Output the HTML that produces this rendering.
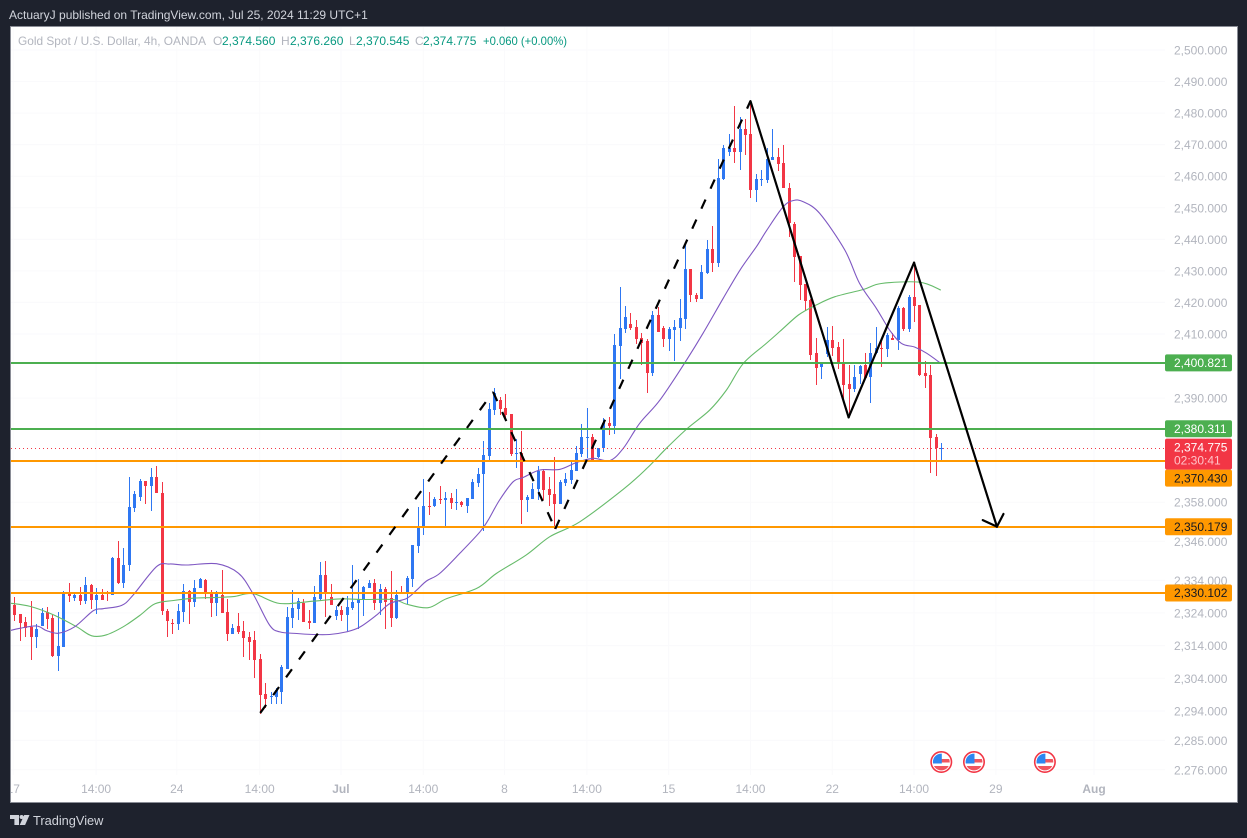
<!DOCTYPE html>
<html lang="en">
<head>
<meta charset="utf-8">
<title>Gold Spot / U.S. Dollar chart</title>
<style>
html,body{margin:0;padding:0;background:#1e222d;width:1247px;height:838px;overflow:hidden}
svg{display:block}
text{font-family:"Liberation Sans",sans-serif;font-size:12px}
</style>
</head>
<body>
<svg id="chart" xmlns="http://www.w3.org/2000/svg" width="1247" height="838" viewBox="0 0 1247 838">
  <defs>
    <clipPath id="plot-clip"><rect x="11" y="27" width="1154" height="748"/></clipPath>
    <clipPath id="axis-clip"><rect x="1165" y="27" width="72" height="748"/></clipPath>
    <clipPath id="time-clip"><rect x="11" y="775" width="1226" height="27"/></clipPath>
    <clipPath id="flag-clip"><circle cx="0" cy="0" r="8.4"/></clipPath>
  </defs>
  <rect x="0" y="0" width="1247" height="838" fill="#1e222d"/>
  <text x="9" y="19" fill="#d1d4dc">ActuaryJ published on TradingView.com, Jul 25, 2024 11:29 UTC+1</text>
  <rect x="10.5" y="26.5" width="1227" height="776" fill="#ffffff" stroke="#8a8d96" stroke-width="1"/>
  <g id="grid"></g>
  <g clip-path="url(#plot-clip)">
    <g id="candles" shape-rendering="crispEdges"></g>
    <g id="mas"></g>
    <g id="levels"></g>
    <g id="drawings"></g>
    <g id="events"></g>
  </g>
  <g id="y-axis" clip-path="url(#axis-clip)"></g>
  <g id="level-labels"></g>
  <g id="x-axis" clip-path="url(#time-clip)"></g>

  <g>
    <text x="18" y="45" fill="#b2b5be" textLength="188" lengthAdjust="spacingAndGlyphs">Gold Spot / U.S. Dollar, 4h, OANDA</text>
    <text x="213" y="45" fill="#b2b5be">O</text>
    <text x="222" y="45" fill="#089981">2,374.560</text>
    <text x="281" y="45" fill="#b2b5be">H</text>
    <text x="290" y="45" fill="#089981">2,376.260</text>
    <text x="349" y="45" fill="#b2b5be">L</text>
    <text x="356" y="45" fill="#089981">2,370.545</text>
    <text x="415" y="45" fill="#b2b5be">C</text>
    <text x="423" y="45" fill="#089981">2,374.775</text>
    <text x="483" y="45" fill="#089981" textLength="84" lengthAdjust="spacingAndGlyphs">+0.060 (+0.00%)</text>
  </g>

  <g>
    <path d="M10 815h9v10h-4.6v-6H10z" fill="#d1d4dc"/>
    <circle cx="21.6" cy="817" r="2" fill="#d1d4dc"/>
    <path d="M24.2 815h5.3l-4.4 10h-5.4z" fill="#d1d4dc"/>
    <text x="33" y="825" fill="#d1d4dc" style="font-size:12.8px">TradingView</text>
  </g>
</svg>

<script>
// ---- price data (4h bars) ----
const opens = [
2326.5,2323.7,2321.2,2319.8,2316.7,2320.0,2324.3,2322.5,2310.8,2313.7,
2330.5,2328.6,2329.5,2327.7,2332.6,2328.0,2329.5,2330.1,2329.5,2340.9,
2333.2,2338.7,2356.2,2359.6,2364.5,2363.0,2365.7,2360.8,2324.6,2320.9,
2320.6,2324.3,2330.8,2327.4,2331.7,2334.1,2330.1,2327.1,2329.5,2324.3,
2317.6,2320.0,2318.5,2316.6,2315.7,2309.9,2299.1,2298.3,2298.3,2299.8,
2306.8,2322.4,2325.1,2327.0,2321.5,2320.8,2328.2,2335.6,2328.8,2323.0,
2324.8,2323.3,2325.5,2327.0,2328.2,2331.6,2333.1,2327.0,2331.3,2328.5,
2322.4,2330.4,2330.1,2334.4,2344.5,2350.4,2356.8,2356.8,2359.0,2358.7,
2359.3,2357.7,2358.0,2356.8,2359.0,2363.9,2366.7,2372.2,2386.3,2389.4,
2387.0,2385.1,2372.9,2373.1,2358.7,2359.0,2362.1,2367.6,2362.1,2360.5,
2357.4,2363.9,2364.8,2367.6,2372.8,2377.7,2378.0,2371.9,2374.7,2382.3,
2381.4,2406.2,2411.6,2413.1,2412.2,2408.7,2407.8,2397.7,2416.0,2411.9,
2408.4,2411.2,2411.9,2414.7,2430.6,2422.3,2421.1,2429.3,2436.9,2432.5,
2459.1,2467.7,2468.9,2467.7,2474.9,2473.4,2455.6,2458.8,2458.8,2465.1,
2466.1,2464.2,2456.2,2444.8,2434.7,2425.8,2420.8,2404.0,2399.6,2403.7,
2408.1,2405.9,2400.8,2394.3,2392.8,2397.4,2400.2,2396.5,2404.0,2405.6,
2405.2,2408.7,2408.1,2418.2,2411.6,2421.7,2419.2,2397.7,2397.1,2378.0,2374.56];
const highs = [
2329.0,2323.7,2322.9,2327.7,2320.6,2325.4,2325.7,2323.4,2324.3,2330.8,
2333.2,2330.0,2332.0,2335.1,2332.9,2331.7,2331.4,2330.8,2341.2,2346.1,
2343.9,2365.7,2361.4,2365.1,2364.5,2368.5,2369.1,2364.2,2325.2,2322.2,
2326.8,2332.9,2331.1,2334.1,2334.8,2334.4,2331.1,2330.8,2337.2,2328.3,
2320.6,2324.0,2321.5,2318.2,2318.5,2311.4,2302.5,2299.8,2301.0,2308.0,
2325.8,2331.0,2328.5,2328.2,2324.8,2332.2,2339.6,2339.9,2332.8,2326.1,
2326.1,2329.1,2338.7,2334.4,2332.2,2334.1,2334.4,2332.8,2331.9,2336.8,
2331.0,2332.2,2335.3,2344.8,2356.6,2365.1,2361.1,2359.6,2363.0,2361.1,
2360.8,2362.1,2358.4,2359.3,2365.1,2368.5,2376.8,2388.5,2393.1,2390.3,
2391.3,2385.1,2377.4,2379.9,2360.2,2363.9,2369.1,2368.2,2365.7,2371.9,
2364.8,2367.0,2370.7,2375.3,2382.0,2387.0,2379.0,2374.7,2383.8,2384.2,
2410.0,2424.9,2418.9,2416.6,2414.4,2410.3,2408.4,2417.3,2418.5,2412.5,
2412.2,2414.4,2421.1,2438.7,2430.6,2423.0,2431.8,2439.8,2444.2,2465.4,
2469.9,2473.4,2482.2,2478.7,2478.1,2483.5,2460.7,2461.9,2468.9,2474.9,
2468.9,2469.9,2457.8,2445.5,2434.7,2425.8,2421.1,2408.7,2400.8,2412.2,
2412.5,2407.5,2408.4,2400.2,2400.2,2400.2,2404.0,2407.1,2412.2,2408.7,
2410.3,2410.3,2418.9,2418.5,2422.3,2432.5,2419.2,2401.4,2400.2,2379.0,2376.26];
const lows = [
2321.5,2315.5,2316.7,2309.6,2313.4,2320.0,2319.1,2310.5,2306.3,2313.7,
2327.4,2327.7,2326.5,2326.8,2325.2,2323.7,2328.0,2327.7,2329.5,2332.9,
2331.7,2336.9,2355.0,2358.4,2357.5,2355.3,2360.8,2323.4,2316.6,2317.6,
2318.8,2321.2,2320.6,2325.8,2331.7,2328.3,2322.8,2323.1,2324.0,2315.4,
2317.6,2317.6,2310.5,2309.6,2304.1,2293.0,2294.8,2296.1,2296.1,2296.1,
2306.8,2319.3,2321.8,2321.2,2319.0,2320.8,2327.6,2322.7,2326.4,2321.8,
2321.5,2318.4,2324.8,2319.0,2323.0,2331.6,2324.8,2323.3,2319.0,2319.6,
2322.1,2329.8,2326.7,2331.9,2342.4,2347.9,2354.1,2356.5,2357.4,2350.7,
2355.9,2355.6,2356.5,2354.7,2359.0,2362.7,2349.1,2371.0,2384.8,2384.8,
2383.3,2372.2,2368.5,2351.3,2355.0,2359.0,2358.7,2358.7,2356.8,2349.8,
2357.4,2363.0,2363.6,2367.6,2372.0,2371.5,2370.4,2371.5,2373.4,2378.7,
2379.0,2395.9,2410.3,2411.2,2406.8,2400.2,2391.6,2396.8,2410.6,2405.9,
2404.6,2401.4,2407.8,2411.6,2420.1,2420.1,2421.1,2429.0,2429.6,2431.2,
2458.8,2466.4,2464.2,2461.9,2466.7,2453.1,2451.8,2456.9,2457.8,2465.1,
2461.6,2456.2,2440.7,2426.5,2420.8,2417.3,2401.7,2394.0,2395.9,2402.8,
2403.0,2399.0,2389.4,2384.3,2391.9,2394.3,2395.9,2388.5,2403.7,2399.6,
2402.7,2408.1,2404.9,2410.9,2410.6,2413.8,2396.8,2393.1,2367.0,2366.1,2370.545];
const closes = [
2323.4,2321.0,2319.5,2316.7,2319.1,2324.0,2322.2,2310.8,2313.9,2330.5,
2329.2,2329.5,2327.7,2332.6,2328.0,2329.5,2328.0,2329.9,2340.9,2333.2,
2338.7,2356.5,2360.5,2364.5,2363.0,2365.7,2360.8,2324.6,2321.5,2320.6,
2324.6,2330.8,2327.4,2331.7,2334.4,2329.8,2327.1,2329.8,2324.0,2317.6,
2319.4,2318.2,2316.3,2315.1,2309.6,2298.8,2297.6,2298.5,2300.4,2307.4,
2322.8,2325.5,2327.6,2321.2,2320.8,2328.8,2335.6,2329.8,2326.4,2324.8,
2323.3,2325.8,2327.3,2328.2,2331.9,2333.1,2327.0,2331.3,2327.3,2322.4,
2329.5,2330.1,2334.7,2344.8,2350.7,2356.8,2356.5,2359.0,2358.7,2359.3,
2357.7,2358.0,2357.1,2359.3,2364.2,2366.7,2372.5,2386.7,2391.6,2386.7,
2384.8,2372.8,2373.1,2358.7,2359.6,2362.1,2367.6,2361.7,2360.2,2357.4,
2364.2,2365.1,2367.9,2373.1,2378.0,2378.0,2371.0,2374.7,2382.3,2381.4,
2406.5,2411.9,2415.4,2411.9,2408.4,2407.1,2397.7,2416.0,2410.6,2408.4,
2411.6,2412.2,2415.0,2430.6,2422.3,2421.1,2429.6,2436.9,2432.5,2459.4,
2468.9,2468.9,2467.7,2474.9,2473.0,2455.6,2459.1,2459.1,2465.4,2466.1,
2463.9,2456.2,2445.2,2434.4,2425.5,2420.4,2403.3,2399.3,2400.8,2408.1,
2405.6,2400.5,2394.0,2392.8,2396.5,2399.9,2396.2,2404.0,2405.6,2405.2,
2409.7,2408.1,2418.2,2411.6,2421.7,2418.9,2397.1,2396.8,2377.7,2374.7,2374.775];

// ---- moving averages, sampled at bar indexes ----
const purpleBars = [-0.8,1,4.1,5.9,8.1,11.1,14.5,16.3,19.7,21.8,26.1,28.5,31.6,37.1,41.1,43.8,46.8,48.7,51.8,54.8,57.8,60.9,63.4,66.4,68.9,71.9,73.8,75.6,78,81.7,85.4,86.9,89,91.5,93.3,96.4,100,103.1,106.2,109.2,111.7,114.7,118.4,123.3,126.3,130,133.1,136.1,138,141,142.9,144.7,147.7,152.3,155,158.1,160.5,162.7,165.2,167.3,169.9];
const purpleValues = [2318.6,2319.3,2320.0,2318.6,2317.8,2319.8,2324.7,2325.3,2326.3,2329.5,2338.2,2339.0,2338.7,2339.1,2336.2,2329.8,2320.3,2318.2,2317.7,2317.4,2317.4,2318.2,2319.7,2323.3,2326.9,2328.4,2331.0,2333.8,2336.1,2342.3,2348.9,2352.5,2358.7,2364.3,2365.6,2367.9,2368.1,2370.2,2371.5,2370.8,2374.6,2382.3,2389.4,2401.8,2410.2,2421.3,2430.3,2437.7,2442.9,2450.3,2452.3,2451.9,2448.2,2436.6,2426.1,2418.1,2411.3,2407.0,2405.8,2403.9,2400.7];
const greenBars = [-0.8,2.9,7.2,11.4,14.2,16.9,20,23,25.8,29.2,32.8,36.5,40.2,43.8,48.7,54.8,59.7,64,69.5,71.9,75.9,79.3,84.8,88.4,93.9,98.2,103.7,111.7,116,119.6,123.3,127.5,130.6,133.7,137.9,140.4,143.8,147.1,150.5,155.7,159,166,169.9];
const greenValues = [2327.0,2326.0,2323.4,2319.8,2317.0,2317.3,2319.8,2323.2,2326.8,2327.8,2328.5,2328.7,2329.0,2329.9,2326.9,2327.6,2328.3,2328.1,2328.1,2326.7,2325.6,2328.4,2331.5,2336.1,2341.8,2347.4,2352.0,2362.0,2368.4,2374.6,2380.5,2386.3,2392.5,2400.7,2407.0,2410.8,2416.0,2419.2,2421.8,2424.1,2426.0,2426.4,2423.9];

// ---- horizontal levels ----
const levelValues = [2400.821,2380.6,2370.8,2350.45,2330.102];
const levelTexts = ["2,400.821","2,380.311","2,370.430","2,350.179","2,330.102"];
const levelKinds = ["green","green","orange","orange","orange"];
const lastPrice = 2374.775;
const lastPriceText = "2,374.775";
const countdownText = "02:30:41";

// ---- trend drawings (bar index, price) ----
const dashedBars = [45.1,87.8,99.2,135];
const dashedPrices = [2293.4,2391.9,2349.8,2483.8];
const solidBars = [135,153,165,180.2];
const solidPrices = [2483.8,2384.1,2432.6,2350.5];
const arrowBars = [177.6,180.2,181.4];
const arrowPrices = [2352.5,2350.5,2354.4];

// ---- axes ----
const priceTicks = [2500,2490,2480,2470,2460,2450,2440,2430,2420,2410,2390,2358,2346,2334,2324,2314,2304,2294,2285,2276];
const priceTickLabels = ["2,500.000","2,490.000","2,480.000","2,470.000","2,460.000","2,450.000","2,440.000","2,430.000","2,420.000","2,410.000","2,390.000","2,358.000","2,346.000","2,334.000","2,324.000","2,314.000","2,304.000","2,294.000","2,285.000","2,276.000"];
const timeBars = [-0.2,15,29.8,45,59.9,75,89.9,105,120,135,150,165,180,198];
const timeLabels = ["17","14:00","24","14:00","Jul","14:00","8","14:00","15","14:00","22","14:00","29","Aug"];
const eventBars = [170,176,189];

// ---- scales ----
const NS = "http://www.w3.org/2000/svg";
const BAR0 = 14.3, BAR_STEP = 5.453;
const xScale = i => BAR0 + BAR_STEP * i;
const priceDomain = [2500, 2400.8, 2330.1, 2270];
const pixelRange = [50, 363, 593, 789.4];
function yScale(p) {
  let k = 0;
  while (k < priceDomain.length - 2 && p < priceDomain[k + 1]) k++;
  const t = (p - priceDomain[k]) / (priceDomain[k + 1] - priceDomain[k]);
  return pixelRange[k] + t * (pixelRange[k + 1] - pixelRange[k]);
}
function mk(parent, tag, attrs) {
  const el = document.createElementNS(NS, tag);
  for (const k in attrs) el.setAttribute(k, attrs[k]);
  parent.appendChild(el);
  return el;
}
function txt(parent, x, y, s, fill, anchor) {
  const el = mk(parent, "text", { x: x, y: y, fill: fill, "text-anchor": anchor || "start" });
  el.textContent = s;
  return el;
}
const COLORS = { up: "#2e77f2", down: "#f23645", green: "#4caf50", orange: "#ff9800" };

// grid
const gridG = document.getElementById("grid");
priceTicks.forEach(p => {
  const l = mk(gridG, "line", { x1: 11, x2: 1165, y1: yScale(p), y2: yScale(p), stroke: "#fafafc", "stroke-width": 1 });
  
  
});
timeBars.forEach(b => {
  const l = mk(gridG, "line", { x1: xScale(b), x2: xScale(b), y1: 27, y2: 775, stroke: "#fafafc", "stroke-width": 1 });
  
  
});

// candles
const candleG = document.getElementById("candles");
opens.forEach((o, i) => {
  const c = closes[i], color = c >= o ? COLORS.up : COLORS.down;
  const cx = Math.round(xScale(i));
  const g = mk(candleG, "g", { fill: color });
  
  
  const top = Math.round(yScale(highs[i])), bot = Math.round(yScale(lows[i]));
  const wick = mk(g, "rect", { x: cx, y: top, width: 1, height: Math.max(1, bot - top) });
  
  
  const bt = Math.round(yScale(Math.max(o, c))), bb = Math.round(yScale(Math.min(o, c)));
  const body = mk(g, "rect", { x: cx - 1, y: bt, width: 3, height: Math.max(1, bb - bt) });
  
  
});

// moving averages (smoothed through the sampled values)
function linePath(bars, vals) {
  const pts = bars.map((b, i) => [xScale(b), yScale(vals[i])]);
  let d = "M" + pts[0][0].toFixed(1) + " " + pts[0][1].toFixed(1);
  for (let i = 0; i + 1 < pts.length; i++) {
    const a = pts[Math.max(0, i - 1)], b = pts[i], c = pts[i + 1], e = pts[Math.min(pts.length - 1, i + 2)];
    const c1x = b[0] + (c[0] - a[0]) / 6, c1y = b[1] + (c[1] - a[1]) / 6;
    const c2x = c[0] - (e[0] - b[0]) / 6, c2y = c[1] - (e[1] - b[1]) / 6;
    d += "C" + c1x.toFixed(1) + " " + c1y.toFixed(1) + " " + c2x.toFixed(1) + " " + c2y.toFixed(1) + " " + c[0].toFixed(1) + " " + c[1].toFixed(1);
  }
  return d;
}
const maG = document.getElementById("mas");
const greenLine = mk(maG, "path", { d: linePath(greenBars, greenValues), fill: "none", stroke: "#66bb6a", "stroke-width": 1.1, "stroke-linejoin": "round" });


const purpleLine = mk(maG, "path", { d: linePath(purpleBars, purpleValues), fill: "none", stroke: "#7e57c2", "stroke-width": 1.1, "stroke-linejoin": "round" });



// horizontal levels
const levelG = document.getElementById("levels");
const yLast = yScale(lastPrice);
const lastLine = mk(levelG, "line", { x1: 11, x2: 1165, y1: Math.round(yLast) + 0.5, y2: Math.round(yLast) + 0.5, stroke: "#f23645", "stroke-width": 1, "stroke-dasharray": "1 3" });


levelValues.forEach((v, i) => {
  const y = Math.round(yScale(v));
  const l = mk(levelG, "line", { x1: 11, x2: 1165, y1: y, y2: y, stroke: COLORS[levelKinds[i]], "stroke-width": 2 });
  
  
});

// trend drawings
const drawG = document.getElementById("drawings");
function segment(b1, p1, b2, p2, dashed, name) {
  const attrs = { x1: xScale(b1), y1: yScale(p1), x2: xScale(b2), y2: yScale(p2), stroke: "#000", "stroke-width": 2.2, "stroke-linecap": dashed ? "butt" : "round" };
  if (dashed) attrs["stroke-dasharray"] = "10 12";
  const l = mk(drawG, "line", attrs);
  
  
}
for (let i = 0; i + 1 < dashedBars.length; i++) segment(dashedBars[i], dashedPrices[i], dashedBars[i + 1], dashedPrices[i + 1], true, 'dashed-trend-line');
for (let i = 0; i + 1 < solidBars.length; i++) segment(solidBars[i], solidPrices[i], solidBars[i + 1], solidPrices[i + 1], false, 'solid-trend-line');
for (let i = 0; i + 1 < arrowBars.length; i++) segment(arrowBars[i], arrowPrices[i], arrowBars[i + 1], arrowPrices[i + 1], false, 'arrow-head-stroke');

// event flags
const evG = document.getElementById("events");
eventBars.forEach(b => {
  const g = mk(evG, "g", { transform: "translate(" + xScale(b).toFixed(1) + ",762)" });
  
  
  mk(g, "circle", { cx: 0, cy: 0, r: 10.2, fill: "#fff", stroke: "#f23645", "stroke-width": 1.6 });
  const inner = mk(g, "g", { "clip-path": "url(#flag-clip)" });
  mk(inner, "rect", { x: -9, y: -9, width: 18, height: 18, fill: "#fff" });
  mk(inner, "rect", { x: -9, y: 4, width: 18, height: 5, fill: "#f0555f" });
  mk(inner, "rect", { x: 0, y: -3, width: 9, height: 3.5, fill: "#f0555f" });
  mk(inner, "rect", { x: -9, y: -9, width: 9.5, height: 10.5, fill: "#2e86f0" });
});

// price axis
const yAxisG = document.getElementById("y-axis");
priceTicks.forEach((p, i) => {
  const t = txt(yAxisG, 1174, yScale(p) + 4.5, priceTickLabels[i], "#b2b5be");
  
  
});

// level price labels
const lblG = document.getElementById("level-labels");
const lastTop = yLast - 9, lastBottom = lastTop + 31;
levelValues.forEach((v, i) => {
  let top = yScale(v) - 8.5;
  if (top >= lastTop && top < lastBottom) top = lastBottom;
  const kind = levelKinds[i];
  const r = mk(lblG, "rect", { x: 1165, y: top, width: 67, height: 17, rx: 2, fill: COLORS[kind] });
  
  
  const t = txt(lblG, 1174, top + 12.7, levelTexts[i], kind === "green" ? "#ffffff" : "#131722");
  
  
});
const lastBox = mk(lblG, "rect", { x: 1165, y: lastTop, width: 67, height: 31, rx: 2, fill: "#f23645" });


const lastTxt = txt(lblG, 1174, lastTop + 12.7, lastPriceText, "#ffffff");


const cdTxt = txt(lblG, 1174, lastTop + 26, countdownText, "#ffc4c9");



// time axis
const xAxisG = document.getElementById("x-axis");
timeBars.forEach((b, i) => {
  const label = timeLabels[i];
  const t = txt(xAxisG, xScale(b), 793, label, "#b2b5be", "middle");
  
  
  if (label === "Jul" || label === "Aug") t.setAttribute('font-weight', 'bold');
});
</script>
</body>
</html>
